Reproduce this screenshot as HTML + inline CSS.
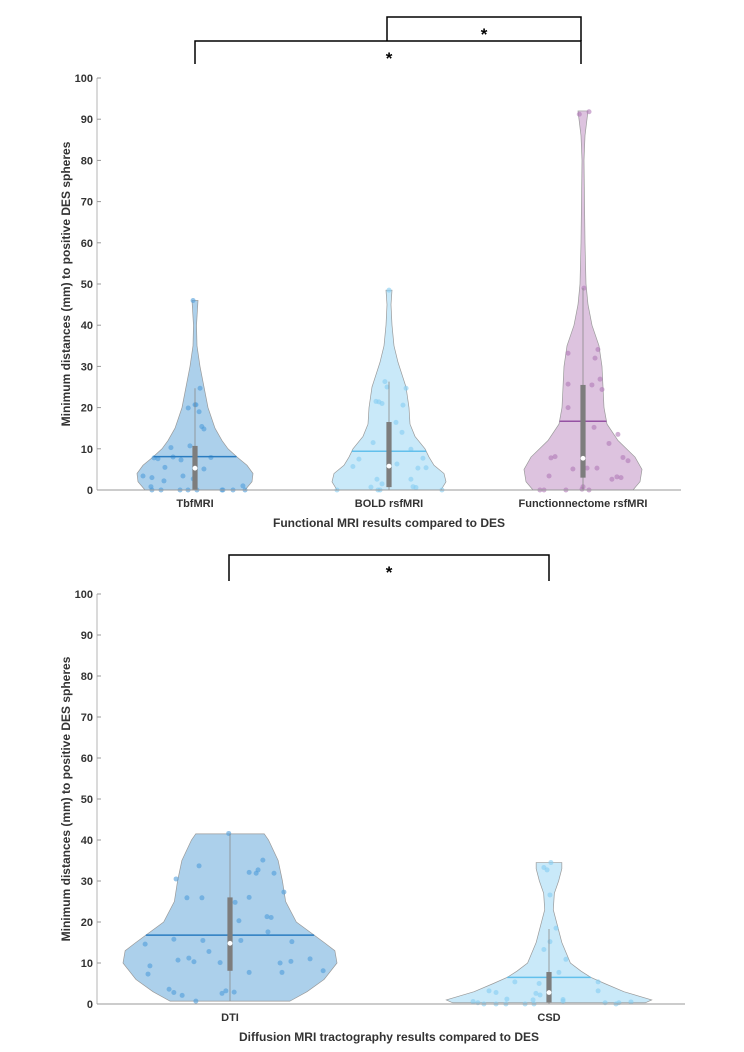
<!DOCTYPE html>
<html><head><meta charset="utf-8">
<style>
html,body{margin:0;padding:0;background:#fff;}
svg{display:block;font-family:"Liberation Sans",Arial,sans-serif;}
</style></head>
<body>
<svg id="fig" width="744" height="1052" viewBox="0 0 744 1052" xmlns="http://www.w3.org/2000/svg">
</svg>
<script>
// ---------- DATA: top chart ----------
const topCategories = ["TbfMRI", "BOLD rsfMRI", "Functionnectome rsfMRI"];
const topTicks = [0,10,20,30,40,50,60,70,80,90,100];
const tbfLevels = [0,2,4,6,8,10,12,15,20,25,30,35,40,44,46];
const tbfWidths = [50,57,58,52,42,33,27,20,13,9,5,2,1.5,2.5,3];
const boldLevels = [0,2,4,6,8,10,13,16,20,25,28,31,35,40,45,48.5];
const boldWidths = [52,57,55,45,40,36,26,21,20,17,13,9,5,3,2,3];
const funcLevels = [0,2,5,8,12,16,20,25,30,35,40,45,50,60,70,80,86,90,92];
const funcWidths = [50,57,59,52,35,24,21,20,19,16,9,5,3,2,1.5,1,2,4,5];
const tbfValues = [46,20.7,20.7,19.9,24.7,19,15.4,14.8,10.7,10.3,7.9,8,7.3,7.8,7.6,5.5,5.1,3.4,3,3.4,2.2,2.7,0.8,1,0,0,0,0,0,0,0,0,0];
const tbfJitter = [-0.01,0,0.005,-0.035,0.026,0.021,0.035,0.046,-0.026,-0.124,0.082,-0.113,-0.072,-0.211,-0.191,-0.155,0.046,-0.268,-0.222,-0.062,-0.16,-0.009,-0.227,0.247,-0.222,-0.175,-0.077,-0.036,0.01,0.139,0.144,0.196,0.258];
const boldValues = [48.5,26.3,25,21.5,21.4,21,16.4,24.7,20.6,14,11.5,9.9,7.7,7.5,6.3,5.7,5.3,5.4,2.6,2.6,1.5,0.8,0.7,0.6,0,0,0,0];
const boldJitter = [0,-0.021,-0.01,-0.067,-0.052,-0.036,0.036,0.088,0.072,0.067,-0.082,0.113,0.175,-0.155,0.041,-0.186,0.149,0.191,0.113,-0.062,-0.036,0.124,-0.093,0.139,-0.268,-0.057,-0.046,0.273];
const funcValues = [91.2,91.8,49,33.2,34.1,32,25.7,25.5,26.9,24.4,20,15.2,13.5,11.3,7.8,8.1,7.9,7.1,5.1,5.3,5.3,3.4,2.6,3.2,3,0,0,0,0.2,0.8,0];
const funcJitter = [-0.019,0.031,0.005,-0.077,0.077,0.062,-0.077,0.046,0.088,0.098,-0.077,0.057,0.18,0.134,-0.165,-0.144,0.206,0.232,-0.052,0.021,0.072,-0.175,0.149,0.175,0.196,-0.222,-0.201,-0.088,-0.005,0,0.031];
// box stats: [whiskerLow, q1, median, q3, whiskerHigh, mean]
const tbfStats = [0,0,5.3,10.7,24.7,8.1];
const boldStats = [0,0.7,5.8,16.5,26.3,9.4];
const funcStats = [0,3,7.7,25.5,49,16.7];

// ---------- DATA: bottom chart ----------
const botCategories = ["DTI", "CSD"];
const botTicks = [0,10,20,30,40,50,60,70,80,90,100];
const dtiLevels = [0.7,3,6,10,13,15,20,25,30,35,40,41.5];
const dtiWidths = [56,72,88,100,98,88,62,52,49,45,36,32];
const csdLevels = [0.3,1,3,5,6.5,8,10,15,20,23,27,30,33,34.5];
const csdWidths = [90,96,70,52,39,30,20,12,7,4,5,9,12,12];
const dtiValues = [41.6,14.6,9.3,7.3,30.5,25.9,25.9,33.7,15.8,11.2,10.7,10.3,15.5,12.8,3.6,2.8,2.1,0.7,10.1,2.6,3.2,2.9,24.8,20.3,15.5,7.7,26,32.1,31.9,32.7,35.1,31.9,21.3,21.1,17.6,27.3,15.2,10.4,10,7.7,11,8.1];
const dtiJitter = [-0.004,-0.266,-0.251,-0.257,-0.169,-0.135,-0.088,-0.097,-0.176,-0.129,-0.163,-0.113,-0.085,-0.066,-0.191,-0.176,-0.15,-0.107,-0.031,-0.025,-0.013,0.013,0.016,0.028,0.034,0.06,0.06,0.06,0.082,0.088,0.103,0.138,0.116,0.129,0.119,0.169,0.194,0.191,0.157,0.163,0.251,0.292];
const csdValues = [34.5,33.3,32.7,26.6,18.5,15.2,13.3,10.9,7.7,5.4,5,5.4,3.2,3.2,2.8,2.6,2.2,1.2,1,1.1,0.7,0.6,0.3,0,0,0,0,0,0.3,0,0.3,0.5];
const csdJitter = [0.006,-0.016,-0.006,0.003,0.022,0.003,-0.016,0.053,0.031,-0.107,-0.031,0.154,0.154,-0.188,-0.166,-0.041,-0.028,-0.132,-0.05,0.044,0.044,-0.238,-0.223,-0.204,-0.166,-0.135,-0.075,-0.047,0.176,0.21,0.219,0.257];
const dtiStats = [0.7,8.1,14.8,26,41.5,16.8];
const csdStats = [0,0.4,2.8,7.8,18.3,6.5];

// ---------- rendering ----------
const NS = "http://www.w3.org/2000/svg";
const svg = document.getElementById("fig");
function mk(tag, attrs, parent) {
  const e = document.createElementNS(NS, tag);
  for (const k in attrs) e.setAttribute(k, attrs[k]);
  (parent || svg).appendChild(e);
  return e;
}
function txt(s, attrs, parent) { const e = mk("text", attrs, parent); e.textContent = s; return e; }

function makeAxes(cfg) {
  const y = v => cfg.y0 - (v / 100) * (cfg.y0 - cfg.y100);
  const x = c => cfg.x0 + c * cfg.step;
  return {x, y};
}

function drawChart(cfg, name) {
  const g = mk("g", {});
  
  
  const {x, y} = makeAxes(cfg);
  const ya = mk("line", {x1: cfg.ax, y1: y(100), x2: cfg.ax, y2: y(0), stroke: "#b5b5b5", "stroke-width": 1}, g);
  
  
  cfg.ticks.forEach(t => {
    const tl = mk("line", {x1: cfg.ax, y1: y(t), x2: cfg.ax + 4, y2: y(t), stroke: "#999", "stroke-width": 1}, g);
    
    
    const lb = txt(String(t), {x: cfg.ax - 4, y: y(t) + 4, "text-anchor": "end", "font-size": 11, "font-weight": "bold", fill: "#333"}, g);
    
    
  });
  cfg.series.forEach((s, i) => {
    const cx = x(i);
    const sg = mk("g", {}, g);
    
    
    let d = "";
    s.levels.forEach((lv, k) => { d += (k ? "L" : "M") + (cx + s.widths[k] * cfg.wscale) + "," + y(lv); });
    for (let k = s.levels.length - 1; k >= 0; k--) d += "L" + (cx - s.widths[k] * cfg.wscale) + "," + y(s.levels[k]);
    d += "Z";
    const vp = mk("path", {d, fill: s.fill, stroke: "#9a9a9a", "stroke-width": 0.7}, sg);
    
    
    s.values.forEach((v, k) => {
      const c = mk("circle", {cx: cx + s.jitter[k] * cfg.step, cy: y(v), r: 2.5, fill: s.pt, "fill-opacity": 0.6}, sg);
      
      
    });
    const st = s.stats;
    const wl = mk("line", {x1: cx, x2: cx, y1: y(st[0]), y2: y(st[4]), stroke: "#8a8a8a", "stroke-width": 0.8}, sg);
    
    
    let hw = s.widths[0];
    for (let k = 0; k < s.levels.length - 1; k++) {
      if (st[5] >= s.levels[k] && st[5] <= s.levels[k + 1]) {
        const f = (st[5] - s.levels[k]) / (s.levels[k + 1] - s.levels[k]);
        hw = s.widths[k] + f * (s.widths[k + 1] - s.widths[k]);
      }
    }
    const ml = mk("line", {x1: cx - hw * cfg.wscale, x2: cx + hw * cfg.wscale, y1: y(st[5]), y2: y(st[5]), stroke: s.mean, "stroke-width": 1.5}, sg);
    
    
    const bx = mk("rect", {x: cx - 2.6, y: y(st[3]), width: 5.2, height: y(st[1]) - y(st[3]), fill: "#7d7d7d"}, sg);
    
    
    const md = mk("circle", {cx, cy: y(st[2]), r: 2.4, fill: "#fff"}, sg);
    
    
    const cl = txt(cfg.categories[i], {x: cx, y: y(0) + 17, "text-anchor": "middle", "font-size": 11, "font-weight": "bold", fill: "#333"}, g);
    
    
  });
  const xa = mk("line", {x1: cfg.ax, y1: y(0), x2: cfg.axEnd, y2: y(0), stroke: "#999", "stroke-width": 1}, g);
  
  
  const xt = txt(cfg.xtitle, {x: cfg.xtitleX, y: y(0) + 37, "text-anchor": "middle", "font-size": 12, "font-weight": "bold", fill: "#333"}, g);
  
  
  const ymid = (y(0) + y(100)) / 2;
  const yt = txt("Minimum distances (mm) to positive DES spheres", {x: 0, y: 0, transform: "translate(" + (cfg.ax - 27) + "," + ymid + ") rotate(-90)", "text-anchor": "middle", "font-size": 12, "font-weight": "bold", fill: "#333"}, g);
  
  
  return {x, y};
}

drawChart({
  x0: 195, step: 194, y0: 490, y100: 78, ax: 97, axEnd: 681, wscale: 1,
  ticks: topTicks, categories: topCategories,
  xtitle: "Functional MRI results compared to DES", xtitleX: 389,
  series: [
    {key: "tbfmri", levels: tbfLevels, widths: tbfWidths, values: tbfValues, jitter: tbfJitter, stats: tbfStats, fill: "#acd0eb", pt: "#4f9ddb", mean: "#2a7cc0"},
    {key: "bold-rsfmri", levels: boldLevels, widths: boldWidths, values: boldValues, jitter: boldJitter, stats: boldStats, fill: "#c9e9f9", pt: "#86cdf2", mean: "#62c0ec"},
    {key: "functionnectome-rsfmri", levels: funcLevels, widths: funcWidths, values: funcValues, jitter: funcJitter, stats: funcStats, fill: "#ddc3df", pt: "#b079b8", mean: "#9552a3"}
  ]
}, "top-chart");

drawChart({
  x0: 230, step: 319, y0: 1004, y100: 594, ax: 97, axEnd: 685, wscale: 1.07,
  ticks: botTicks, categories: botCategories,
  xtitle: "Diffusion MRI tractography results compared to DES", xtitleX: 389,
  series: [
    {key: "dti", levels: dtiLevels, widths: dtiWidths, values: dtiValues, jitter: dtiJitter, stats: dtiStats, fill: "#acd0eb", pt: "#4f9ddb", mean: "#2a7cc0"},
    {key: "csd", levels: csdLevels, widths: csdWidths, values: csdValues, jitter: csdJitter, stats: csdStats, fill: "#c9e9f9", pt: "#86cdf2", mean: "#62c0ec"}
  ]
}, "bottom-chart");

function bracket(x1, x2, yTop, yBot, sx, sy, name) {
  const g = mk("g", {});
  
  
  mk("path", {d: "M" + x1 + "," + yBot + "V" + yTop + "H" + x2 + "V" + yBot, fill: "none", stroke: "#000", "stroke-width": 1.5}, g);
  txt("*", {x: sx, y: sy, "text-anchor": "middle", "font-size": 17, "font-weight": "bold", fill: "#000"}, g);
}
bracket(387, 581, 17, 41, 484, 40, "significance-bracket-bold-func");
bracket(195, 581, 41, 64, 389, 64, "significance-bracket-tbf-func");
bracket(229, 549, 555, 581, 389, 578, "significance-bracket-dti-csd");
</script>
</body></html>
